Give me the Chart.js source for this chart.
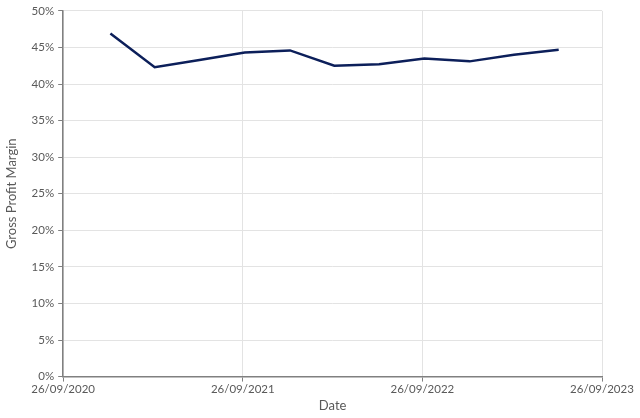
<!DOCTYPE html>
<html>
<head>
  <meta charset="utf-8">
  <title>Gross Profit Margin</title>
  <script src="https://cdn.jsdelivr.net/npm/chart.js"></script>
  <style>
    body { margin: 0; padding: 0; background: #ffffff; }
    .chart-container { position: relative; width: 640px; height: 418px; }
  </style>
</head>
<body>
  <div class="chart-container">
    <canvas id="gpmChart"></canvas>
  </div>

  <script>
    // Données (fin de trimestre)
    var dates = ['2020-12-31', '2021-03-31', '2021-06-30', '2021-09-30', '2021-12-31', '2022-03-31',
                 '2022-06-30', '2022-09-30', '2022-12-31', '2023-03-31', '2023-06-30'];
    var margins = [46.9, 42.3, 43.3, 44.3, 44.6, 42.5, 42.7, 43.5, 43.1, 44.0, 44.7];
    var xTickDates = ['2020-09-26', '2021-09-26', '2022-09-26', '2023-09-26'];
    var yTicks = [0, 5, 10, 15, 20, 25, 30, 35, 40, 45, 50];

    var DAY = 86400000;
    var origin = Date.parse(xTickDates[0]);
    function toDays(s) { return Math.round((Date.parse(s) - origin) / DAY); }
    function fmt(days) {
      var d = new Date(origin + days * DAY);
      var dd = String(d.getUTCDate()).padStart(2, '0');
      var mm = String(d.getUTCMonth() + 1).padStart(2, '0');
      return dd + '/' + mm + '/' + d.getUTCFullYear();
    }

    var points = dates.map(function (s, i) { return { x: toDays(s), y: margins[i] }; });
    var xTicks = xTickDates.map(toDays);

    Chart.defaults.font.family = 'Lato, "Open Sans", sans-serif';
    Chart.defaults.font.size = 11.5;
    Chart.defaults.color = '#595959';

    new Chart(document.getElementById('gpmChart'), {
      type: 'line',
      data: {
        datasets: [{
          label: 'Gross Profit Margin',
          data: points,
          borderColor: '#0c1f5a',
          borderWidth: 2.5,
          pointRadius: 0,
          tension: 0,
          fill: false
        }]
      },
      options: {
        responsive: true,
        maintainAspectRatio: false,
        animation: false,
        layout: { padding: { top: 6, right: 38, bottom: 4, left: 4 } },
        plugins: {
          legend: { display: false },
          tooltip: { enabled: false }
        },
        scales: {
          x: {
            type: 'linear',
            min: xTicks[0],
            max: xTicks[xTicks.length - 1],
            afterBuildTicks: function (axis) {
              axis.ticks = xTicks.map(function (v) { return { value: v }; });
            },
            ticks: {
              maxRotation: 0,
              autoSkip: false,
              padding: 1,
              callback: function (v) { return fmt(v); }
            },
            grid: { color: '#e3e3e3', tickColor: '#808080', tickLength: 5 },
            border: { color: '#808080', width: 1.5 },
            title: { display: true, text: 'Date', font: { size: 13 }, padding: { top: 1, bottom: 0 } }
          },
          y: {
            min: 0,
            max: 50,
            afterBuildTicks: function (axis) {
              axis.ticks = yTicks.map(function (v) { return { value: v }; });
            },
            ticks: {
              padding: 4,
              callback: function (v) { return v + '%'; }
            },
            grid: { color: '#e3e3e3', tickColor: '#808080', tickLength: 5 },
            border: { color: '#808080', width: 1.5 },
            title: { display: true, text: 'Gross Profit Margin', font: { size: 13 }, padding: { top: 0, bottom: 8 } }
          }
        }
      }
    });
  </script>
</body>
</html>
